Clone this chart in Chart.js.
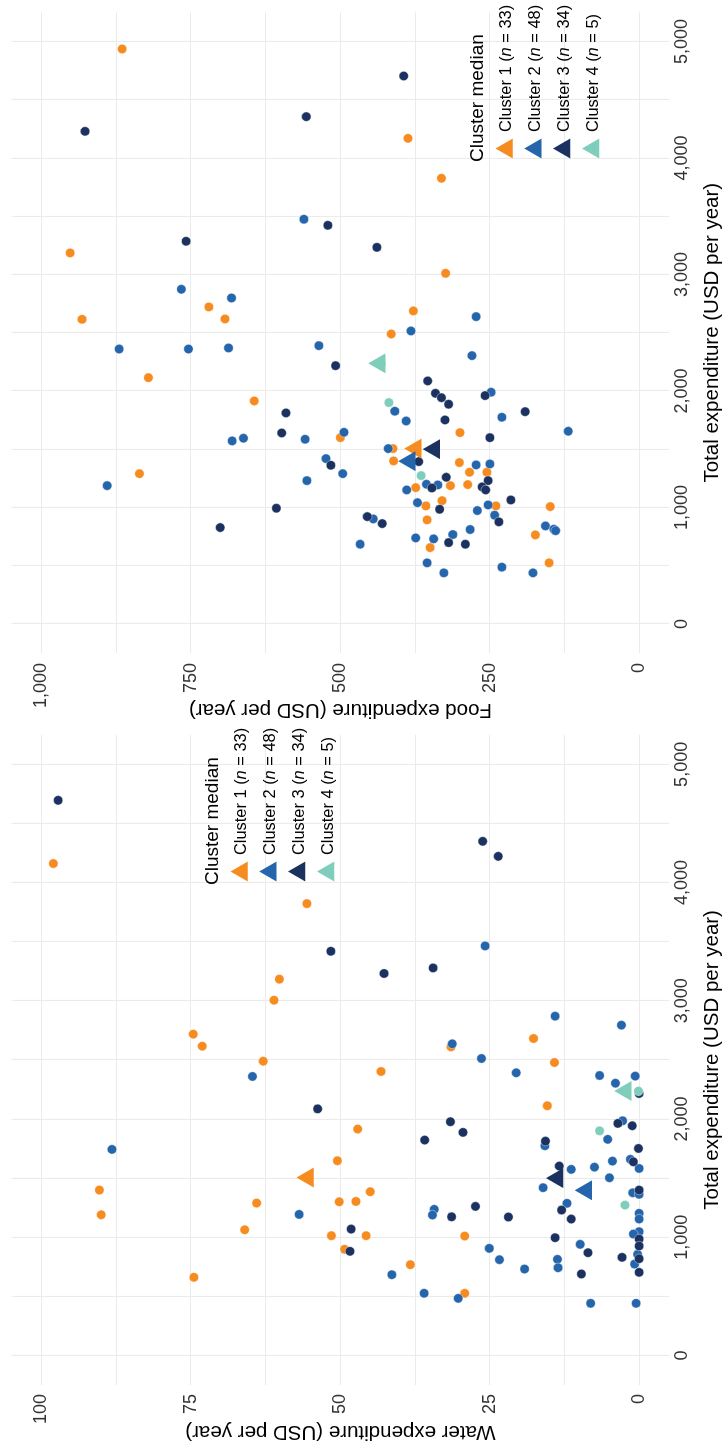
<!DOCTYPE html>
<html>
<head>
<meta charset="utf-8">
<script src="https://cdn.jsdelivr.net/npm/chart.js@4/dist/chart.umd.min.js"></script>
<style>
html,body{margin:0;padding:0;background:#fff;overflow:hidden;width:725px;height:1444px;}
#stage{position:absolute;left:0;top:0;width:1444px;height:725px;transform-origin:0 0;transform:translateY(1444px) rotate(-90deg);background:#fff;}
#stage canvas{position:absolute;top:0;}
#cw{left:0;}
#cf{left:722px;}
</style>
</head>
<body>
<div id="stage">
<canvas id="cw" width="722" height="725"></canvas>
<canvas id="cf" width="722" height="725"></canvas>
</div>
<script>
// ---------------- DATA ----------------
const clusterNames = ['Cluster 1', 'Cluster 2', 'Cluster 3', 'Cluster 4'];
const clusterN = [33, 48, 34, 5];
const clusterColors = ['#F68B1F', '#2465AC', '#1B3260', '#7FCDBB'];
const legendTitle = 'Cluster median';

const totalTitle = 'Total expenditure (USD per year)';
const foodTitle = 'Food expenditure (USD per year)';
const waterTitle = 'Water expenditure (USD per year)';

const totalTickValues = [0, 1000, 2000, 3000, 4000, 5000];
const totalTickLabels = ['0', '1,000', '2,000', '3,000', '4,000', '5,000'];
const totalGridValues = [0, 500, 1000, 1500, 2000, 2500, 3000, 3500, 4000, 4500, 5000];
const foodTickValues = [0, 250, 500, 750, 1000];
const foodTickLabels = ['0', '250', '500', '750', '1,000'];
const foodGridValues = [0, 125, 250, 375, 500, 625, 750, 875, 1000];
const waterTickValues = [0, 25, 50, 75, 100];
const waterTickLabels = ['0', '25', '50', '75', '100'];
const waterGridValues = [0, 12.5, 25, 37.5, 50, 62.5, 75, 87.5, 100];

// Food panel — total expenditure / food expenditure per household
const foodC1Total = [4936,3185,2721,2618,2615,4169,3826,3010,2687,2489,2114,1914,1599,1290,1642,1505,1399,1385,1302,1302,1187,1196,1170,1013,1058,893,1013,1007,655,764,524];
const foodC1Food  = [865,952,720,693,932,387,331,324,378,415,821,644,500,836,300,412,411,301,284,255,316,287,374,357,330,355,240,149,350,174,151];
const foodC2Total = [3474,2873,2798,2638,2515,2360,2360,2369,2389,1571,1594,1585,1645,1187,1419,1290,1230,684,2303,1826,1742,1989,1774,1654,1505,1365,1373,1199,1193,1150,1041,973,1021,933,901,738,730,767,810,841,813,800,524,438,487,438];
const foodC2Food  = [561,766,682,273,382,870,754,687,536,681,662,559,494,890,524,496,556,467,280,409,390,248,230,119,420,273,250,356,337,389,371,271,253,242,445,374,344,312,283,157,143,140,355,327,230,178];
const foodC3Total = [4229,4355,3422,3285,4704,3233,2217,1811,1639,1362,993,827,2086,1980,1942,1886,1751,1960,1822,1599,1393,1259,1230,1176,1150,1167,984,1064,876,921,861,698,684];
const foodC3Food  = [927,557,521,758,394,439,508,591,598,516,607,701,354,341,331,319,325,258,191,250,369,323,253,263,257,347,334,215,235,455,430,319,291];
const foodC4Total = [1900,1273,2236];
const foodC4Food  = [419,365,432];

// Water panel — total expenditure / water expenditure per household
const waterC1Total = [4161,3822,3183,3005,2718,2616,2681,2610,2489,1915,1647,1399,1190,1289,1300,1303,1063,1013,898,661,2402,2478,2112,1385,1013,1010,768,526];
const waterC1Water = [98.0,55.6,60.2,61.1,74.6,73.1,17.7,31.5,62.9,47.1,50.5,90.3,90.0,64.0,50.2,47.4,66.0,51.5,49.3,74.5,43.2,14.2,15.4,45.0,45.7,29.2,38.3,29.2];
const waterC2Total = [3464,2870,2794,2636,2360,1743,1193,2512,2391,1236,1188,906,810,731,683,526,483,2368,2363,2303,1985,1828,1774,1644,1659,1582,1574,1593,1503,1419,1376,1363,1287,1202,1154,1047,1027,940,855,773,441,813,742,441];
const waterC2Water = [25.8,14.1,3.0,31.3,64.7,88.2,56.9,26.4,20.6,34.3,34.6,25.1,23.4,19.2,41.4,36.0,30.3,6.65,0.7,4.0,2.8,5.3,15.8,4.5,1.5,0.05,11.4,7.5,5.0,16.1,1.1,0.05,12.1,0.05,0.05,0.05,1.0,9.9,0.3,0.8,0.55,13.7,13.6,8.15];
const waterC3Total = [4696,3419,4349,4222,3278,3231,2086,1069,881,1977,1887,1822,1173,1261,1171,2216,1963,1943,1813,1751,1638,1602,1399,1230,1154,996,869,985,926,818,703,830,689];
const waterC3Water = [97.2,51.6,26.2,23.6,34.5,42.7,53.8,48.2,48.4,31.6,29.5,35.9,31.4,27.4,21.9,0.05,3.6,1.2,15.7,0.15,1.0,13.4,0.05,13.0,11.4,14.1,8.6,0.05,0.05,0.05,0.05,2.9,9.7];
const waterC4Total = [2236,1900,1272];
const waterC4Water = [0.15,6.65,2.4];

// Cluster medians
const medianTotal = [1505, 1397, 1500, 2237];
const medianFood  = [374, 384, 343, 434];
const medianWater = [55.4, 8.9, 13.7, 2.3];

// ---------------- CHARTS ----------------
const FONT = '"Liberation Sans", Arial, Helvetica, sans-serif';
const GRID = '#ebebeb';

function pts(xs, ys) { return xs.map((x, i) => ({ x: x, y: ys[i] })); }

function pointSet(label, xs, ys, color, order) {
  return {
    label: label, data: pts(xs, ys), order: order,
    backgroundColor: color, borderColor: '#ffffff', borderWidth: 0.4,
    pointRadius: 4.7, pointHoverRadius: 4.7, pointStyle: 'circle'
  };
}

const legendPlugin = {
  id: 'clusterLegend',
  afterDatasetsDraw(chart, args, opts) {
    const ctx = chart.ctx;
    ctx.save();
    ctx.fillStyle = '#000';
    ctx.textBaseline = 'alphabetic';
    ctx.textAlign = 'left';
    ctx.font = '19px ' + FONT;
    ctx.fillText(legendTitle, opts.x, opts.titleBaseline);
    const fs = 16.4;
    clusterNames.forEach((name, i) => {
      const cy = opts.titleBaseline + 24 + 28.8 * i;
      const cx = opts.x + 13.5;
      const r = 11.5;
      ctx.beginPath();
      ctx.moveTo(cx, cy - r);
      ctx.lineTo(cx + r * Math.sin(2 * Math.PI / 3), cy + r / 2);
      ctx.lineTo(cx - r * Math.sin(2 * Math.PI / 3), cy + r / 2);
      ctx.closePath();
      ctx.fillStyle = clusterColors[i];
      ctx.fill();
      ctx.fillStyle = '#000';
      const base = cy + 0.26 * fs;
      let tx = opts.x + 30;
      ctx.font = fs + 'px ' + FONT;
      const a = name + ' (';
      ctx.fillText(a, tx, base); tx += ctx.measureText(a).width;
      ctx.font = 'italic ' + fs + 'px ' + FONT;
      ctx.fillText('n', tx, base); tx += ctx.measureText('n').width;
      ctx.font = fs + 'px ' + FONT;
      ctx.fillText(' = ' + clusterN[i] + ')', tx, base);
    });
    ctx.restore();
  }
};

function makeChart(canvasId, cfg) {
  const datasets = [
    pointSet(clusterNames[0], cfg.c[0][0], cfg.c[0][1], clusterColors[0], 4),
    pointSet(clusterNames[1], cfg.c[1][0], cfg.c[1][1], clusterColors[1], 3),
    pointSet(clusterNames[2], cfg.c[2][0], cfg.c[2][1], clusterColors[2], 2),
    pointSet(clusterNames[3], cfg.c[3][0], cfg.c[3][1], clusterColors[3], 1),
    {
      label: legendTitle, data: pts(medianTotal, cfg.median), order: 0,
      backgroundColor: clusterColors, borderWidth: 0,
      pointStyle: 'triangle', pointRadius: 11.5, pointHoverRadius: 11.5
    }
  ];
  return new Chart(document.getElementById(canvasId), {
    type: 'scatter',
    data: { datasets: datasets },
    plugins: [legendPlugin],
    options: {
      responsive: false, animation: false, devicePixelRatio: 1,
      layout: { padding: { left: 0, top: 8.2, right: cfg.padRight, bottom: 0 } },
      plugins: { legend: { display: false }, tooltip: { enabled: false }, clusterLegend: cfg.legend },
      scales: {
        x: {
          type: 'linear', min: -250, max: 5250,
          afterBuildTicks: s => { s.ticks = totalGridValues.map(v => ({ value: v })); },
          afterFit: s => { s.height = 55.7; s.paddingLeft = 0; s.paddingRight = 0; s.paddingTop = 0; s.paddingBottom = 0; },
          ticks: {
            autoSkip: false, maxRotation: 0, padding: 2, color: '#333',
            font: { family: FONT, size: 18 },
            callback: v => { const i = totalTickValues.indexOf(v); return i >= 0 ? totalTickLabels[i] : ''; }
          },
          grid: { color: GRID, lineWidth: 1.1, drawTicks: false },
          border: { display: false },
          title: { display: true, text: totalTitle, color: '#000', font: { family: FONT, size: 20.5 }, padding: { top: 0, bottom: 0 } }
        },
        y: {
          type: 'linear', min: cfg.yMin, max: cfg.yMax,
          afterBuildTicks: s => { s.ticks = cfg.grid.map(v => ({ value: v })); },
          afterFit: s => { s.width = cfg.yWidth; s.paddingTop = 0; s.paddingBottom = 0; s.paddingLeft = 0; s.paddingRight = 0; },
          ticks: {
            autoSkip: false, padding: cfg.yPad, color: '#333',
            font: { family: FONT, size: 18 },
            callback: v => { const i = cfg.tickVals.indexOf(v); return i >= 0 ? cfg.tickLabels[i] : ''; }
          },
          grid: { color: GRID, lineWidth: 1.1, drawTicks: false },
          border: { display: false },
          title: { display: true, text: cfg.title, color: '#000', font: { family: FONT, size: 20.5 }, padding: { top: 0, bottom: 0 } }
        }
      }
    }
  });
}

makeChart('cw', {
  c: [[waterC1Total, waterC1Water], [waterC2Total, waterC2Water], [waterC3Total, waterC3Water], [waterC4Total, waterC4Water]],
  median: medianWater, yMin: -5, yMax: 105, grid: waterGridValues,
  tickVals: waterTickValues, tickLabels: waterTickLabels, title: waterTitle,
  yWidth: 59, yPad: 9, padRight: 12.8,
  legend: { x: 559, titleBaseline: 218 }
});
makeChart('cf', {
  c: [[foodC1Total, foodC1Food], [foodC2Total, foodC2Food], [foodC3Total, foodC3Food], [foodC4Total, foodC4Food]],
  median: medianFood, yMin: -50, yMax: 1050, grid: foodGridValues,
  tickVals: foodTickValues, tickLabels: foodTickLabels, title: foodTitle,
  yWidth: 69, yPad: 10, padRight: 12.4,
  legend: { x: 560, titleBaseline: 483 }
});
</script>
</body>
</html>
